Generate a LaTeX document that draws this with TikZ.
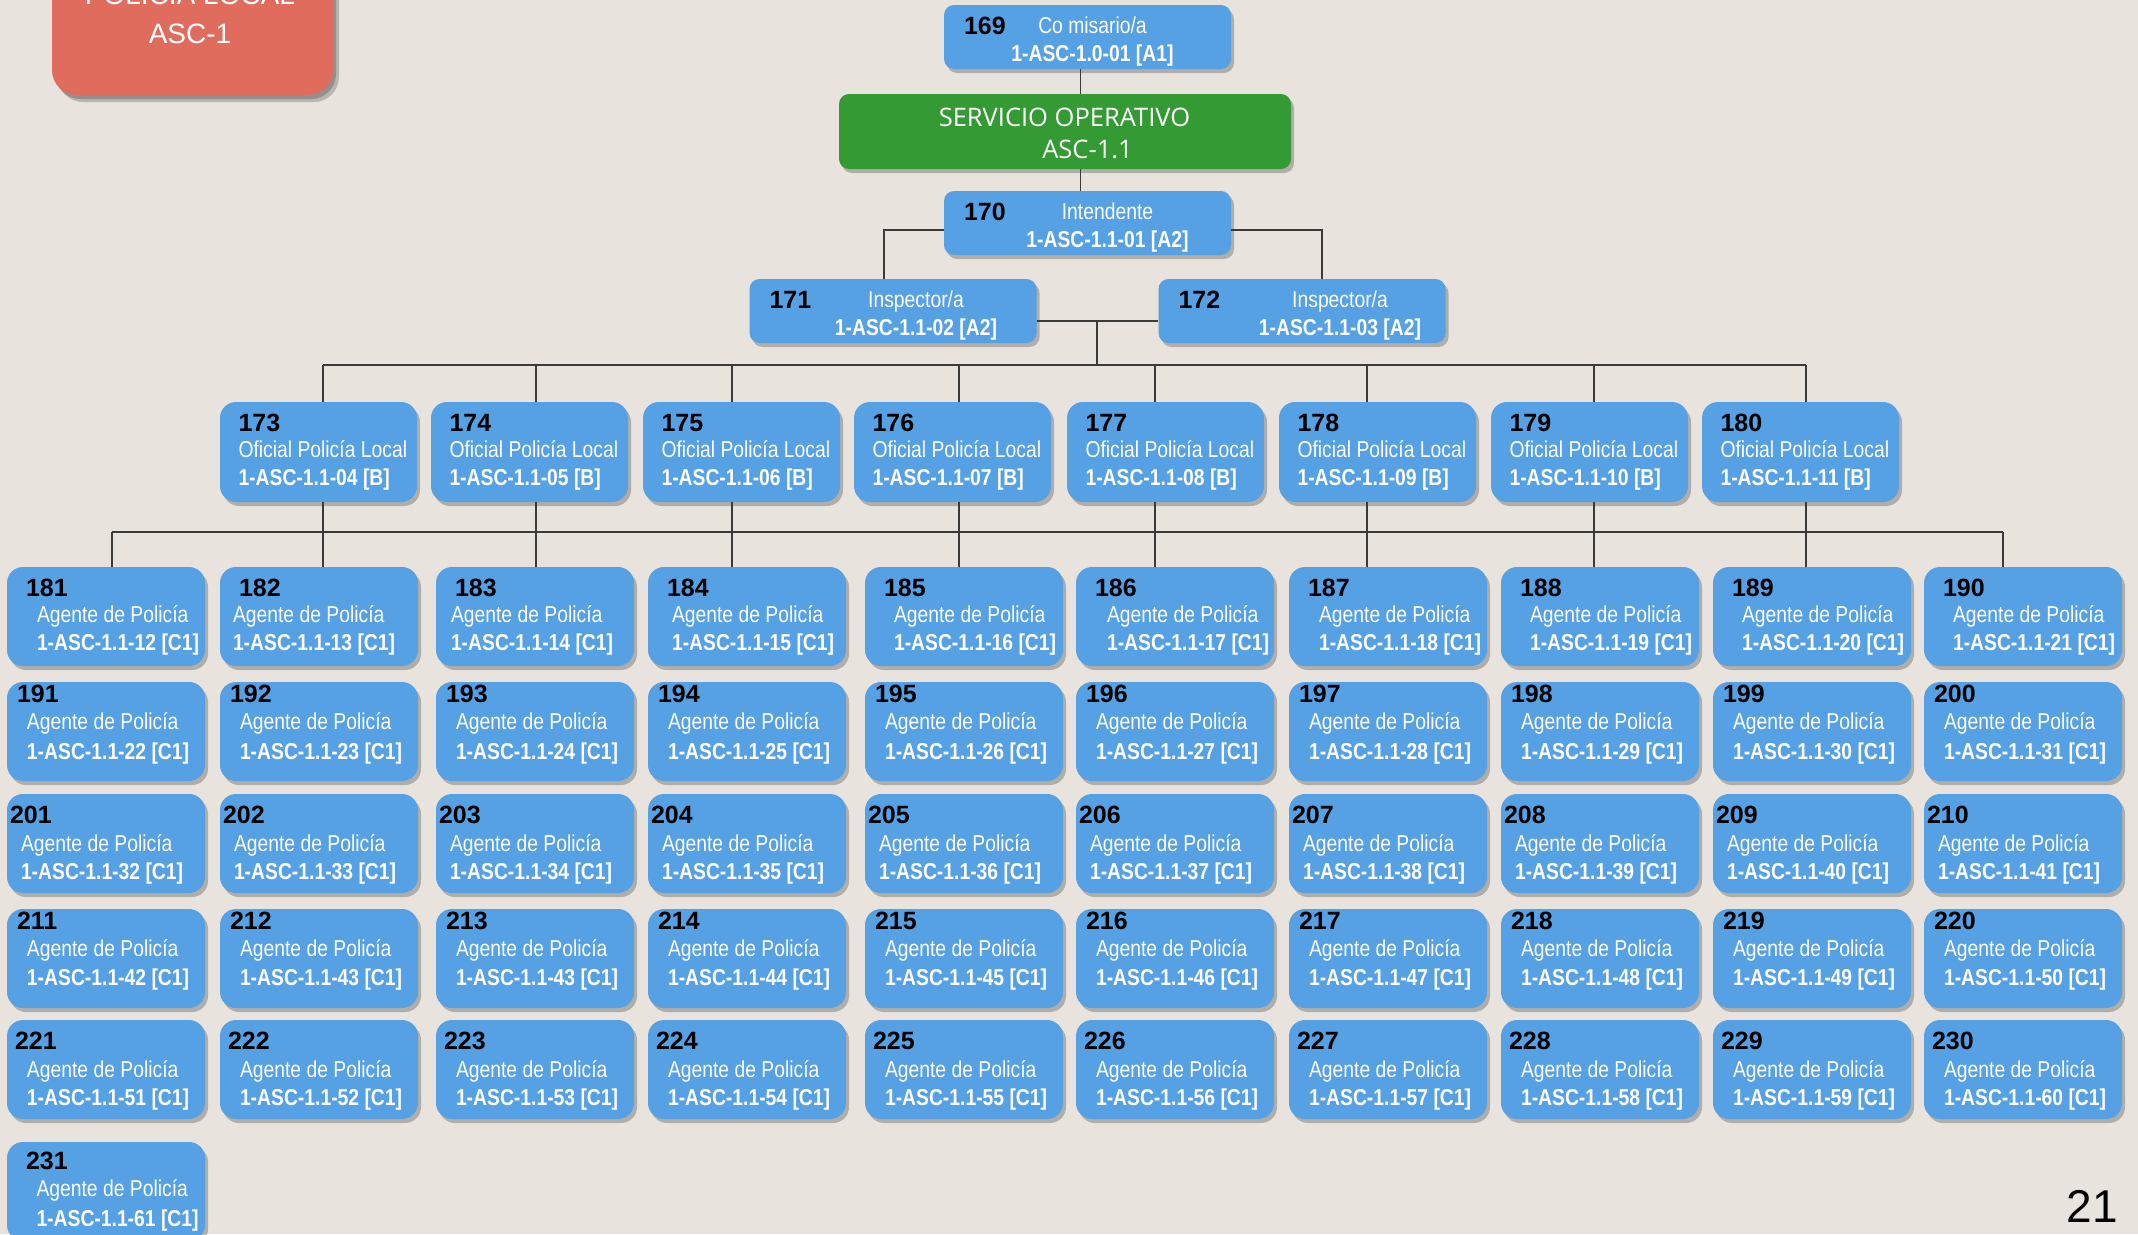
\documentclass[tikz,border=0pt]{standalone}
\usepackage{fontspec}
\setmainfont{Liberation Sans}
\newfontfamily\estrecha[FakeStretch=0.84]{Liberation Sans}
\newfontfamily\segoe{Open Sans}
\usetikzlibrary{calc,shadows}

\definecolor{fondo}{HTML}{E8E4DD}
\definecolor{azul}{HTML}{56A0E4}
\definecolor{verde}{HTML}{349A34}
\definecolor{rojo}{HTML}{E06C5D}
\definecolor{trazo}{HTML}{3A3A3A}

\tikzset{
  caja/.style={fill=azul, draw=none, inner sep=0pt,
    drop shadow={shadow xshift=3pt, shadow yshift=-4pt, opacity=0.35, fill=black!70}},
  mando/.style={caja, rounded corners=10pt, minimum width=287pt, minimum height=64pt},
  oficial/.style={caja, rounded corners=16pt, minimum width=197pt, minimum height=100pt},
  agente/.style={caja, rounded corners=16pt, minimum width=198pt, minimum height=99pt},
  servicio/.style={caja, fill=verde, rounded corners=10pt, minimum width=452pt, minimum height=75pt},
  unidad/.style={caja, fill=rojo, rounded corners=25pt, minimum width=281pt, minimum height=175pt,
    drop shadow={shadow xshift=6pt, shadow yshift=-7pt, opacity=0.3, fill=black!70}},
  numero/.style={inner sep=0pt, text=black, font=\bfseries\fontsize{25}{30}\selectfont},
  cargo/.style={inner sep=0pt, text=white, font=\estrecha\fontsize{23}{28}\selectfont},
  codigo/.style={inner sep=0pt, text=white, font=\estrecha\bfseries\fontsize{23}{28}\selectfont},
  titulo/.style={inner sep=0pt, text=white, font=\segoe\fontsize{25.5}{30}\selectfont},
  rotulo/.style={inner sep=0pt, text=white, font=\fontsize{28}{34}\selectfont},
  linea/.style={draw=trazo, line width=1.8pt},
}

\begin{document}
\begin{tikzpicture}[x=1pt, y=-1pt]
\useasboundingbox (0,0) rectangle (2138,1234);
\clip (0,0) rectangle (2138,1234);
\fill[fondo] (0,0) rectangle (2138,1234);

% Unidad
\node[unidad] (psc) at (192.5,7.5) {};
\node[rotulo, anchor=base] (psc-t) at (190,5) {POLICÍA LOCAL};
\node[rotulo, anchor=base] (psc-c) at (190,43) {ASC-1};

% Mandos
\node[mando] (n169) at (1087.5,37) {};
\node[numero, anchor=base west] (n169-n) at ($(n169.north west)+(20,30)$) {169};
\node[cargo, anchor=base] (n169-c) at ($(n169.north)+(5,29)$) {Co misario/a};
\node[codigo, anchor=base] (n169-k) at ($(n169.north)+(5,57)$) {1-ASC-1.0-01 [A1]};

\node[servicio] (serv) at (1065,131.5) {};
\node[titulo, anchor=base] (serv-t) at (1064.5,126) {SERVICIO OPERATIVO};
\node[titulo, anchor=base] (serv-c) at (1087.5,158) {ASC-1.1};

\node[mando] (n170) at (1087.5,223) {};
\node[numero, anchor=base west] (n170-n) at ($(n170.north west)+(20,30)$) {170};
\node[cargo, anchor=base] (n170-c) at ($(n170.north)+(20,29)$) {Intendente};
\node[codigo, anchor=base] (n170-k) at ($(n170.north)+(20,57)$) {1-ASC-1.1-01 [A2]};

\node[mando] (n171) at (893,311) {};
\node[numero, anchor=base west] (n171-n) at ($(n171.north west)+(20,30)$) {171};
\node[cargo, anchor=base] (n171-c) at ($(n171.north)+(23,29)$) {Inspector/a};
\node[codigo, anchor=base] (n171-k) at ($(n171.north)+(23,57)$) {1-ASC-1.1-02 [A2]};

\node[mando] (n172) at (1302,311) {};
\node[numero, anchor=base west] (n172-n) at ($(n172.north west)+(20,30)$) {172};
\node[cargo, anchor=base] (n172-c) at ($(n172.north)+(38,29)$) {Inspector/a};
\node[codigo, anchor=base] (n172-k) at ($(n172.north)+(38,57)$) {1-ASC-1.1-03 [A2]};

% Oficiales
\foreach \x [count=\i from 173] in {318.5,529.5,741.5,952.5,1165.5,1377.5,1589.5,1800.5} {
  \pgfmathtruncatemacro{\cod}{\i-169}
  \node[oficial] (o\i) at (\x,452) {};
  \node[numero, anchor=base west] (o\i-n) at ($(o\i.north west)+(18.5,30)$) {\i};
  \node[cargo, anchor=base west] (o\i-c) at ($(o\i.north west)+(18.5,56)$) {Oficial Policía Local};
  \node[codigo, anchor=base west] (o\i-k) at ($(o\i.north west)+(18.5,84)$) {1-ASC-1.1-\ifnum\cod<10 0\fi\cod\ [B]};
}

% Agentes
\foreach \r/\top/\ndx/\ndy/\tdx/\ldy/\kdy in {0/567/19/30/0/56/84, 1/682/10/21/20/48/78,
    2/794/3/30/14/58/86, 3/909/10/21/20/48/77, 4/1020/8/30/20/58/86} {
  \foreach \x/\d [count=\c from 0] in {106/30,319/13,535/15,747/24,964/29,1175/31,1388/30,1600/29,1812/29,2023/29} {
    \pgfmathtruncatemacro{\num}{181+10*\r+\c}
    \pgfmathtruncatemacro{\cod}{\num-169-(\num>212)}
    \ifnum\r=0 \edef\dx{\d}\else\edef\dx{\tdx}\fi
    \node[agente] (a\num) at (\x,\top+49.5) {};
    \node[numero, anchor=base west] (a\num-n) at ($(a\num.north west)+(\ndx,\ndy)$) {\num};
    \node[cargo, anchor=base west] (a\num-c) at ($(a\num.north west)+(\dx,\ldy)$) {Agente de Policía};
    \node[codigo, anchor=base west] (a\num-k) at ($(a\num.north west)+(\dx,\kdy)$) {1-ASC-1.1-\cod\ [C1]};
  }
}
\node[agente] (a231) at (106,1191.5) {};
\node[numero, anchor=base west] (a231-n) at ($(a231.north west)+(19,28)$) {231};
\node[cargo, anchor=base west] (a231-c) at ($(a231.north west)+(29.5,55)$) {Agente de Policía};
\node[codigo, anchor=base west] (a231-k) at ($(a231.north west)+(29.5,85)$) {1-ASC-1.1-61 [C1]};

% Conexiones
\coordinate (barra1) at (1097,365);
\coordinate (barra2) at (0,532);
\draw[linea] ($(n169.south)+(-7,0)$) -- ($(n169.south |- serv.north)+(-7,0)$);
\draw[linea] ($(n170.north |- serv.south)+(-7,0)$) -- ($(n170.north)+(-7,0)$);
\draw[linea] ($(n170.west)+(0,7)$) -| ($(n171.north)+(-9,0)$);
\draw[linea] ($(n170.east)+(0,7)$) -| ($(n172.north)+(20,0)$);
\draw[linea] ($(n171.east)+(0,10)$) -- ($(n172.west)+(0,10)$);
\draw[linea] ($(n171.east -| barra1)+(0,10)$) -- (barra1);
\draw[linea] ($(o173.north |- barra1)+(4.5,0)$) -- ($(o180.north |- barra1)+(5.5,0)$);
\foreach \i/\dl in {173/4.5,174/6.5,175/-9.5,176/6.5,177/-10.5,178/-10.5,179/4.5,180/5.5} {
  \draw[linea] ($(o\i.north |- barra1)+(\dl,0)$) -- ($(o\i.north)+(\dl,0)$);
}
\draw[linea] ($(a181.north |- barra2)+(6,0)$) -- ($(a190.north |- barra2)+(-20,0)$);
\draw[linea] ($(a181.north |- barra2)+(6,0)$) -- ($(a181.north)+(6,0)$);
\draw[linea] ($(a190.north |- barra2)+(-20,0)$) -- ($(a190.north)+(-20,0)$);
\foreach \i/\dl [count=\j from 182] in {173/4.5,174/6.5,175/-9.5,176/6.5,177/-10.5,178/-10.5,179/4.5,180/5.5} {
  \draw[linea] ($(o\i.south)+(\dl,0)$) -- ($(o\i.south |- a\j.north)+(\dl,0)$);
}

% Pagina
\node[inner sep=0pt, anchor=base east, font=\fontsize{46}{50}\selectfont] (pag) at (2118,1222) {21};
\end{tikzpicture}
\end{document}
